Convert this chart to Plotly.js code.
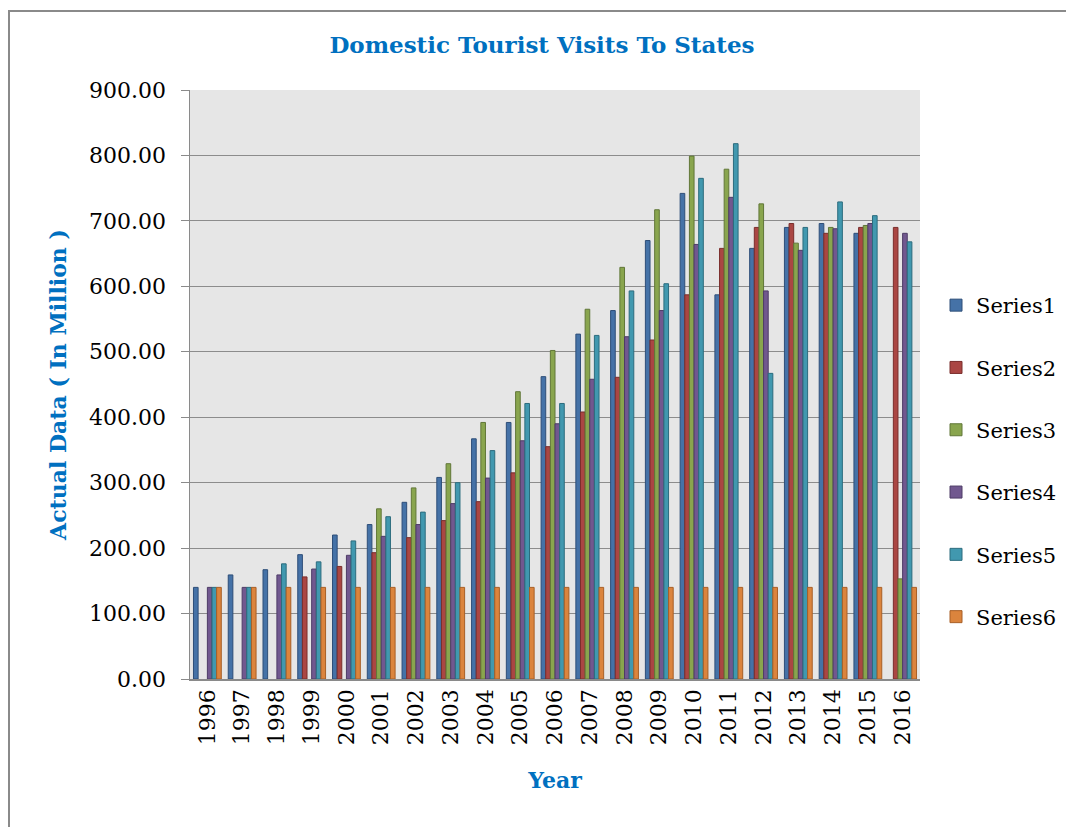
<!DOCTYPE html>
<html>
<head>
<meta charset="utf-8">
<script src="https://cdn.plot.ly/plotly-3.0.1.min.js"></script>
<style>
  html, body { margin: 0; padding: 0; background: #fff; }
  #chart { width: 1066px; height: 827px; }
  #frame { position: absolute; left: 8px; top: 10px; width: 1100px; height: 900px;
           border-left: 2px solid #8a8a8a; border-top: 2px solid #8a8a8a; pointer-events: none; }
</style>
</head>
<body>
<div id="chart"></div>
<div id="frame"></div>
<script>
const years = ['1996','1997','1998','1999','2000','2001','2002','2003','2004','2005','2006',
               '2007','2008','2009','2010','2011','2012','2013','2014','2015','2016'];
const series1 = [140, 159, 167, 190, 220, 236, 270, 308, 367, 392, 462, 527, 563, 670, 742, 587, 658, 690, 696, 681, null];
const series2 = [null, null, null, 156, 172, 193, 216, 242, 271, 315, 355, 408, 461, 518, 587, 658, 690, 696, 681, 690, 690];
const series3 = [null, null, null, null, null, 260, 292, 329, 392, 439, 502, 565, 629, 717, 799, 779, 726, 666, 690, 693, 153];
const series4 = [140, 140, 159, 168, 189, 218, 236, 268, 307, 364, 390, 458, 523, 563, 664, 736, 593, 655, 688, 696, 681];
const series5 = [140, 140, 176, 179, 211, 248, 255, 300, 349, 421, 421, 525, 593, 604, 765, 818, 467, 690, 729, 708, 668];
const series6 = [140, 140, 140, 140, 140, 140, 140, 140, 140, 140, 140, 140, 140, 140, 140, 140, 140, 140, 140, 140, 140];
const seriesNames = ['Series1','Series2','Series3','Series4','Series5','Series6'];
const seriesData = [series1, series2, series3, series4, series5, series6];
const fillColors = ['#4572A7','#AA4643','#89A54E','#71588F','#4198AF','#DB843D'];
const lineColors = ['#2E4E78','#7A2E2C','#617738','#4E3C66','#2C6C7E','#A85F26'];

const serif = "'DejaVu Serif', 'Liberation Serif', serif";
const blue = '#0070C0';

const traces = seriesNames.map((name, i) => ({
  type: 'bar',
  name: name,
  x: years,
  y: seriesData[i],
  legendgroup: 'g' + i,
  marker: { color: fillColors[i], line: { color: lineColors[i], width: 1 } },
  hoverinfo: 'x+y+name'
}));

const layout = {
  width: 1066,
  height: 827,
  paper_bgcolor: '#ffffff',
  plot_bgcolor: '#E6E6E6',
  margin: { l: 190, r: 146, t: 90, b: 148, autoexpand: false },
  barmode: 'group',
  bargap: 0.2,
  bargroupgap: 0,
  title: {
    text: '<b>Domestic Tourist Visits To States</b>',
    font: { family: serif, size: 23, color: blue },
    x: 542 / 1066, xanchor: 'center', xref: 'container',
    y: 1 - 45 / 827, yanchor: 'middle', yref: 'container'
  },
  xaxis: {
    type: 'category',
    tickangle: -90,
    tickfont: { family: serif, size: 22, color: '#000' },
    showgrid: false,
    showline: true,
    linecolor: '#8a8a8a',
    linewidth: 1.5,
    ticks: '',
    title: { text: '<b>Year</b>', font: { family: serif, size: 22, color: blue }, standoff: 28 }
  },
  yaxis: {
    range: [0, 900],
    dtick: 100,
    tick0: 0,
    tickformat: '.2f',
    tickfont: { family: serif, size: 22, color: '#000' },
    ticklabelstandoff: 10,
    showgrid: true,
    gridcolor: '#8c8c8c',
    gridwidth: 1,
    showline: true,
    linecolor: '#8a8a8a',
    linewidth: 1.5,
    ticks: 'outside',
    ticklen: 8,
    tickcolor: '#8a8a8a',
    zeroline: false,
    title: { text: '<b>Actual Data ( In Million )</b>', font: { family: serif, size: 22, color: blue }, standoff: 16 }
  },
  legend: {
    xref: 'container', x: 936 / 1066, xanchor: 'left',
    yref: 'container', y: 1 - 461 / 827, yanchor: 'middle',
    font: { family: serif, size: 21, color: '#000' },
    tracegroupgap: 32,
    bgcolor: 'rgba(0,0,0,0)'
  },
  showlegend: true
};

Plotly.newPlot('chart', traces, layout, { displayModeBar: false, staticPlot: true });
</script>
</body>
</html>
